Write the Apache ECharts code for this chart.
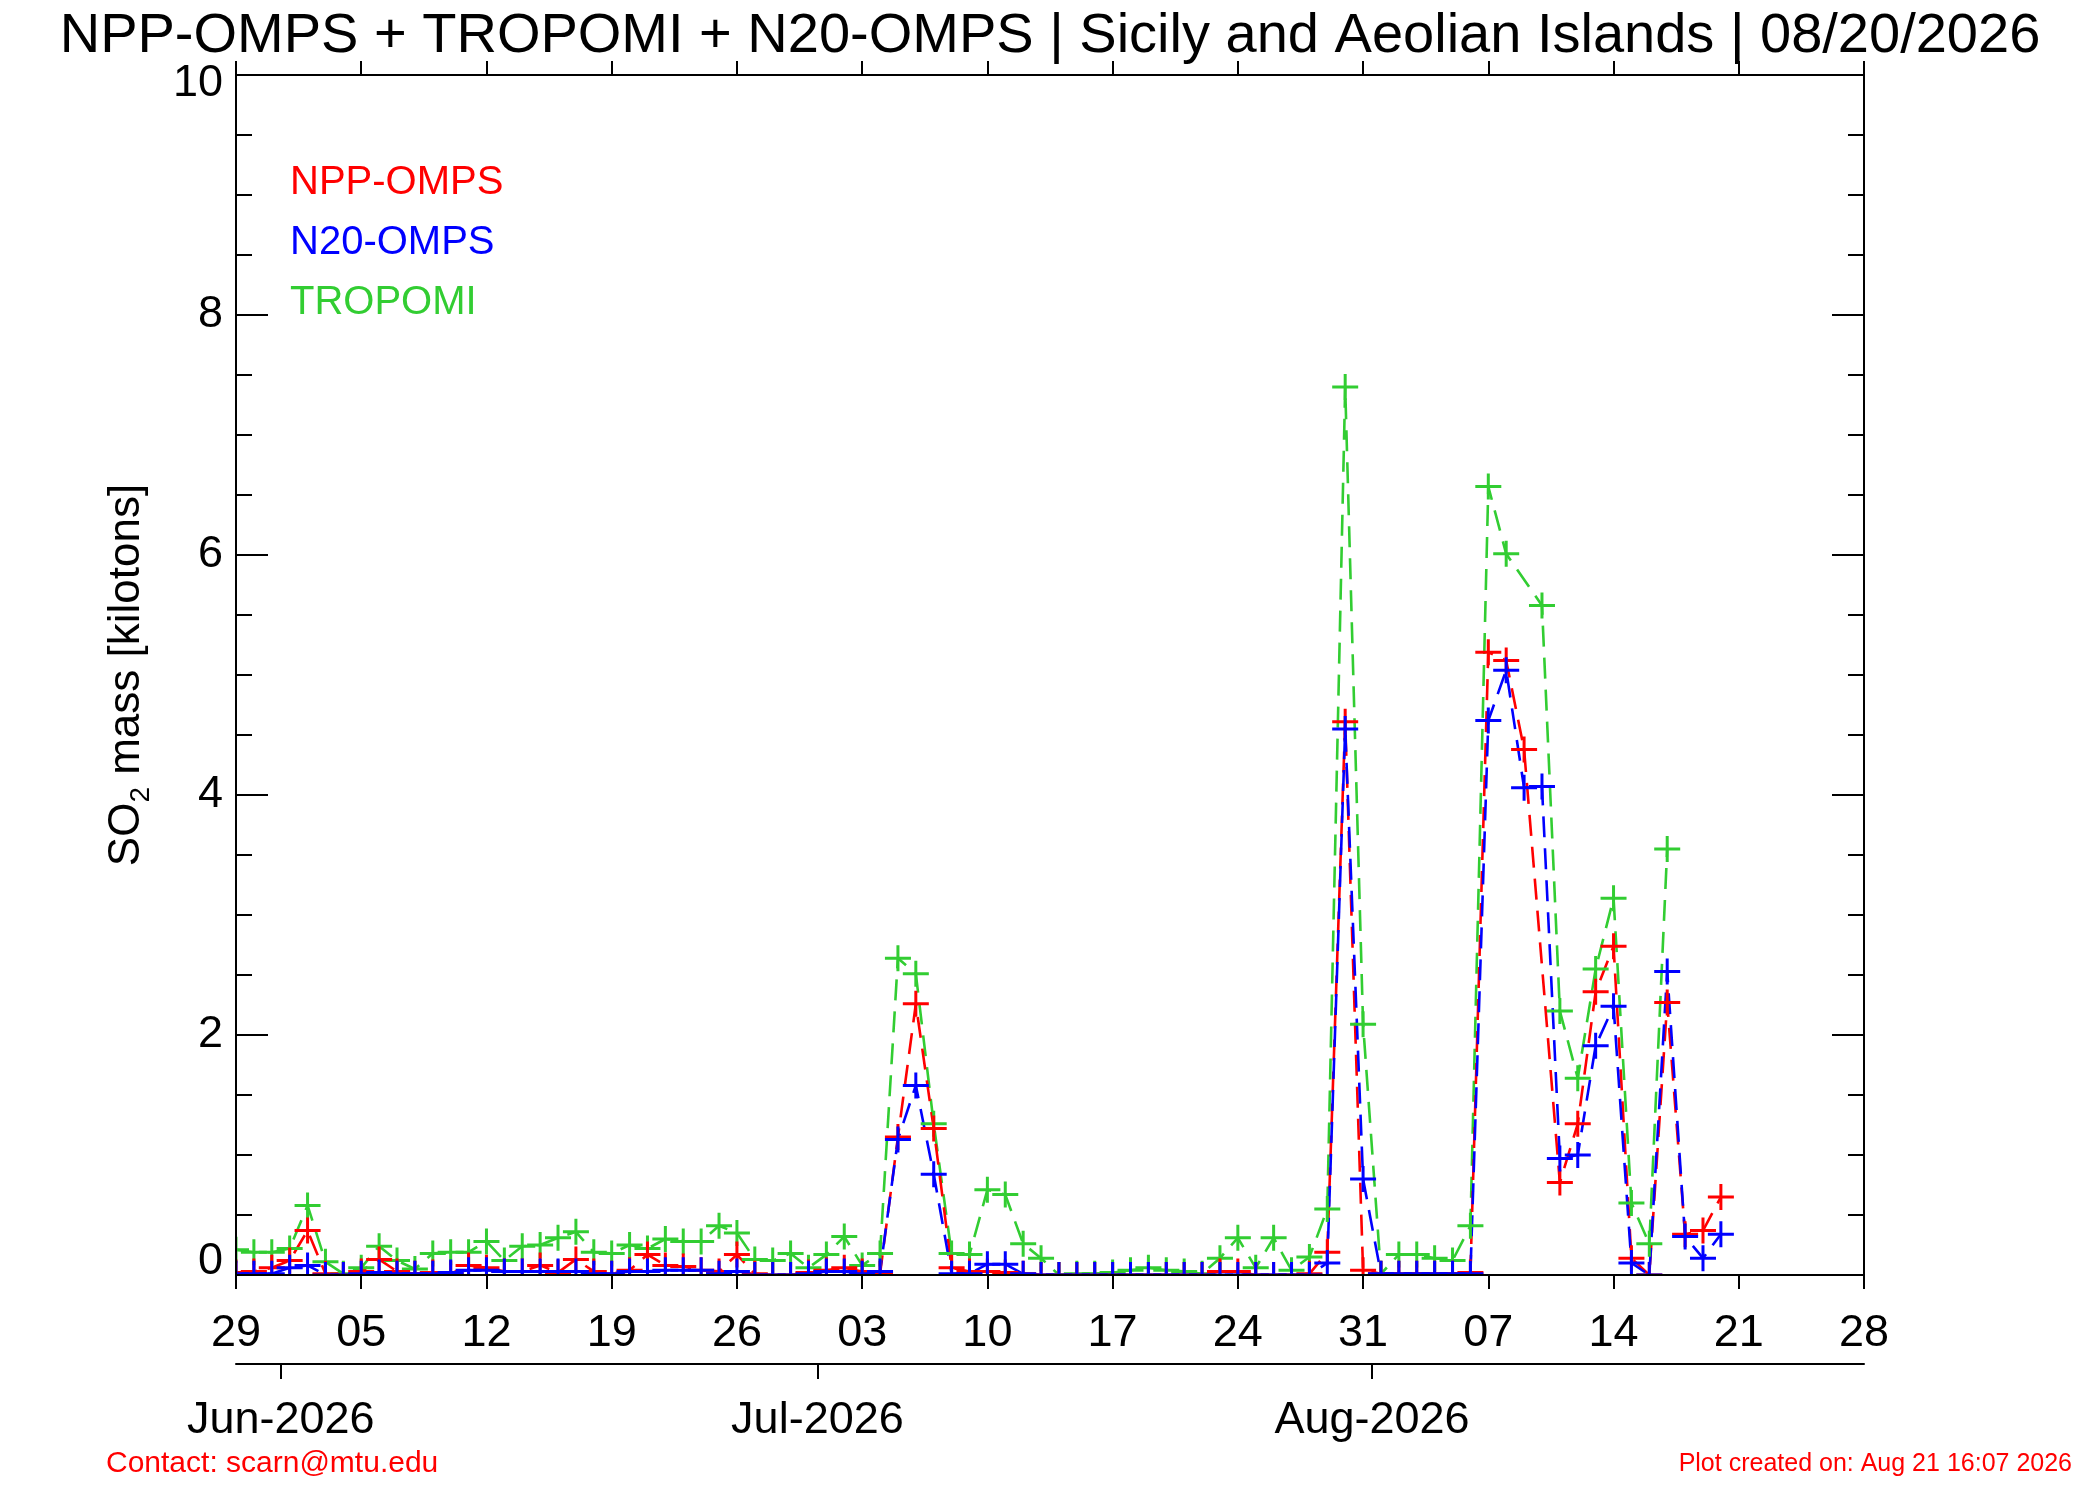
<!DOCTYPE html>
<html>
<head>
<meta charset="utf-8">
<script src="https://cdn.jsdelivr.net/npm/echarts@6/dist/echarts.min.js"></script>
<style>
html,body{margin:0;padding:0;background:#fff;}
#chart{width:2100px;height:1500px;}
</style>
</head>
<body>
<div id="chart"></div>
<script>
// ---- data ----
const startDate = '2026-05-29';           // day index 0 (points plotted at noon)
const dayTickLabels = ['29','05','12','19','26','03','10','17','24','31','07','14','21','28'];
const monthStarts = ['2026-06-01','2026-07-01','2026-08-01'];
const monthLabels = ['Jun-2026','Jul-2026','Aug-2026'];
const yTickValues = [0,2,4,6,8,10];

// NPP-OMPS (red), index = days since 2026-05-29
const nppOmps = [0.02,0.03,0.06,0.12,0.37,0.01,0.00,0.03,0.13,0.03,
                 0.01,0.02,0.01,0.08,0.06,0.03,0.03,0.08,0.02,0.13,
                 0.03,0.01,0.04,0.17,0.08,0.07,0.04,0.03,0.17,0.01,
                 0.00,0.00,0.02,0.04,0.06,0.03,0.01,1.15,2.26,1.22,
                 0.06,0.03,0.03,0.02,0.01,0.00,0.00,0.00,0.00,0.00,
                 0.00,0.00,0.00,0.00,0.00,0.03,0.03,0.00,0.00,0.00,
                 0.01,0.19,4.61,0.04,0.01,0.01,0.01,0.01,0.01,0.02,
                 5.19,5.12,4.38,null,0.77,1.26,2.36,2.74,0.14,0.00,
                 2.27,0.34,0.37,0.65];
// N20-OMPS (blue)
const n20Omps = [0.01,0.01,0.01,0.06,0.08,0.00,0.00,0.01,0.02,0.01,
                 0.01,0.01,0.02,0.04,0.04,0.03,0.03,0.03,0.03,0.03,
                 0.01,0.01,0.03,0.03,0.04,0.04,0.04,0.01,0.03,0.00,
                 0.00,0.00,0.01,0.03,0.03,0.01,0.03,1.13,1.58,0.84,
                 0.01,0.01,0.09,0.09,0.01,0.00,0.00,0.00,0.00,0.00,
                 0.00,0.00,0.00,0.00,0.00,0.00,0.00,0.00,0.00,0.00,
                 0.00,0.10,4.55,0.80,0.01,0.01,0.01,0.01,0.01,0.01,
                 4.62,5.04,4.06,4.07,0.97,1.00,1.91,2.24,0.10,0.00,
                 2.53,0.32,0.14,0.34];
// TROPOMI (green)
const tropomi = [0.21,0.19,0.19,0.22,0.58,0.11,0.01,0.06,0.24,0.12,
                 0.05,0.18,0.19,0.19,0.28,0.12,0.24,0.25,0.31,0.36,
                 0.19,0.18,0.25,0.22,0.30,0.28,0.28,0.41,0.35,0.13,
                 0.12,0.18,0.06,0.17,0.32,0.08,0.18,2.64,2.51,1.26,
                 0.18,0.17,0.71,0.67,0.26,0.14,0.00,0.01,0.01,0.02,
                 0.04,0.06,0.04,0.03,0.01,0.14,0.31,0.06,0.31,0.04,
                 0.15,0.55,7.40,2.09,0.01,0.17,0.17,0.14,0.12,0.41,
                 6.57,6.01,null,5.58,2.20,1.64,2.55,3.14,0.60,0.26,
                 3.55];

// ---- helpers ----
const FONT = "'Liberation Sans', Arial, Helvetica, sans-serif";
const DAY = 86400000;
const t0 = Date.parse(startDate);
const monthTicks = monthStarts.map(m => (Date.parse(m) - t0) / DAY - 0.5);
const xMax = (dayTickLabels.length - 1) * 7;
const yMin = yTickValues[0], yMax = yTickValues[yTickValues.length - 1];
const toXY = arr => arr.map((v, i) => v == null ? null : [i, v]).filter(Boolean);
const PLUS = 'path://M11.5 0H14.5V11.5H26V14.5H14.5V26H11.5V14.5H0V11.5H11.5Z';

function mkSeries(name, color, arr) {
  return {
    name: name, type: 'line', data: toXY(arr),
    xAxisIndex: 0, yAxisIndex: 0,
    symbol: PLUS, symbolSize: 26, showSymbol: true,
    connectNulls: true,
    lineStyle: { color: color, width: 2.6, type: [21, 11] },
    itemStyle: { color: color },
    emphasis: { disabled: true },
    z: 2
  };
}

const chart = echarts.init(document.getElementById('chart'), null, { renderer: 'canvas' });
const axisLineStyle = { color: '#000', width: 2 };
const tickFont = { fontSize: 45, color: '#000', fontFamily: FONT };

chart.setOption({
  animation: false,
  backgroundColor: '#fff',
  title: {
    text: 'NPP-OMPS + TROPOMI + N20-OMPS | Sicily and Aeolian Islands | 08/20/2026',
    left: 'center', top: 9, padding: 0,
    textStyle: { fontSize: 56, fontWeight: 'normal', color: '#000', fontFamily: FONT }
  },
  legend: {
    orient: 'vertical', left: 280, top: 158, itemGap: 20,
    icon: 'none', itemWidth: 0, itemHeight: 40, selectedMode: false,
    textStyle: { fontSize: 40, fontFamily: FONT },
    data: [
      { name: 'NPP-OMPS', textStyle: { color: '#ff0000' } },
      { name: 'N20-OMPS', textStyle: { color: '#0000ff' } },
      { name: 'TROPOMI', textStyle: { color: '#32cd32' } }
    ]
  },
  grid: { left: 236, right: 236, top: 75, bottom: 225, containLabel: false },
  xAxis: [
    {
      type: 'value', position: 'bottom', min: 0, max: xMax, interval: 7, z: 6,
      axisLine: { show: true, onZero: false, lineStyle: axisLineStyle },
      axisTick: { show: true, inside: false, length: 14, lineStyle: axisLineStyle },
      axisLabel: Object.assign({ show: true, margin: 36,
                   formatter: v => dayTickLabels[Math.round(v / 7)] }, tickFont),
      splitLine: { show: false }
    },
    {
      type: 'value', position: 'top', min: 0, max: xMax, interval: 7, z: 6,
      axisLine: { show: true, onZero: false, lineStyle: axisLineStyle },
      axisTick: { show: true, inside: false, length: 14, lineStyle: axisLineStyle },
      axisLabel: { show: false },
      splitLine: { show: false }
    },
    {
      type: 'value', position: 'bottom', offset: 89, min: 0, max: xMax, z: 6,
      axisLine: { show: true, onZero: false, lineStyle: axisLineStyle },
      axisTick: { show: true, inside: false, length: 15, lineStyle: axisLineStyle,
                  customValues: monthTicks },
      axisLabel: Object.assign({ show: true, margin: 34,
                   customValues: monthTicks,
                   formatter: v => {
                     const k = monthTicks.findIndex(t => Math.abs(t - v) < 0.01);
                     return k >= 0 ? monthLabels[k] : '';
                   } }, tickFont),
      splitLine: { show: false }
    }
  ],
  yAxis: [
    {
      type: 'value', position: 'left', min: yMin, max: yMax, interval: 2, z: 6,
      name: 'SO{sub|2} mass [kilotons]', nameLocation: 'middle', nameGap: 81, nameRotate: 90,
      nameTextStyle: {
        fontSize: 44, color: '#000', fontFamily: FONT, lineHeight: 56,
        rich: { sub: { fontSize: 28, fontFamily: FONT, color: '#000', lineHeight: 28, verticalAlign: 'bottom' } }
      },
      axisLine: { show: true, onZero: false, lineStyle: axisLineStyle },
      axisTick: { show: true, inside: true, length: 32, lineStyle: axisLineStyle },
      minorTick: { show: true, splitNumber: 4, length: 16, lineStyle: axisLineStyle },
      axisLabel: Object.assign({ show: true, margin: 13,
        formatter: v => v === yMin ? '{lo|' + v + '}' : (v === yMax ? '{hi|' + v + '}' : String(v)),
        rich: {
          lo: Object.assign({ padding: [0, 0, 26, 0] }, tickFont),
          hi: Object.assign({ padding: [18, 0, 0, 0] }, tickFont)
        } }, tickFont),
      splitLine: { show: false }
    },
    {
      type: 'value', position: 'right', min: yMin, max: yMax, interval: 2, z: 6,
      axisLine: { show: true, onZero: false, lineStyle: axisLineStyle },
      axisTick: { show: true, inside: true, length: 32, lineStyle: axisLineStyle },
      minorTick: { show: true, splitNumber: 4, length: 16, lineStyle: axisLineStyle },
      axisLabel: { show: false },
      splitLine: { show: false }
    }
  ],
  graphic: [
    // white masks so marker halves outside the plot frame are hidden (as in the reference)
    { type: 'rect', z: 4, silent: true, shape: { x: 180, y: 1276, width: 1740, height: 30 }, style: { fill: '#fff' } },
    { type: 'rect', z: 4, silent: true, shape: { x: 190, y: 1100, width: 45, height: 200 }, style: { fill: '#fff' } },
    { type: 'text', z: 10, left: 106, top: 1449,
      style: { text: 'Contact: scarn@mtu.edu', fill: '#ff0000', fontSize: 30, fontFamily: FONT } },
    { type: 'text', z: 10, right: 28, top: 1452,
      style: { text: 'Plot created on: Aug 21 16:07 2026', fill: '#ff0000', fontSize: 25, fontFamily: FONT } }
  ],
  series: [
    mkSeries('TROPOMI', '#32cd32', tropomi),
    mkSeries('NPP-OMPS', '#ff0000', nppOmps),
    mkSeries('N20-OMPS', '#0000ff', n20Omps)
  ]
});
</script>
</body>
</html>
